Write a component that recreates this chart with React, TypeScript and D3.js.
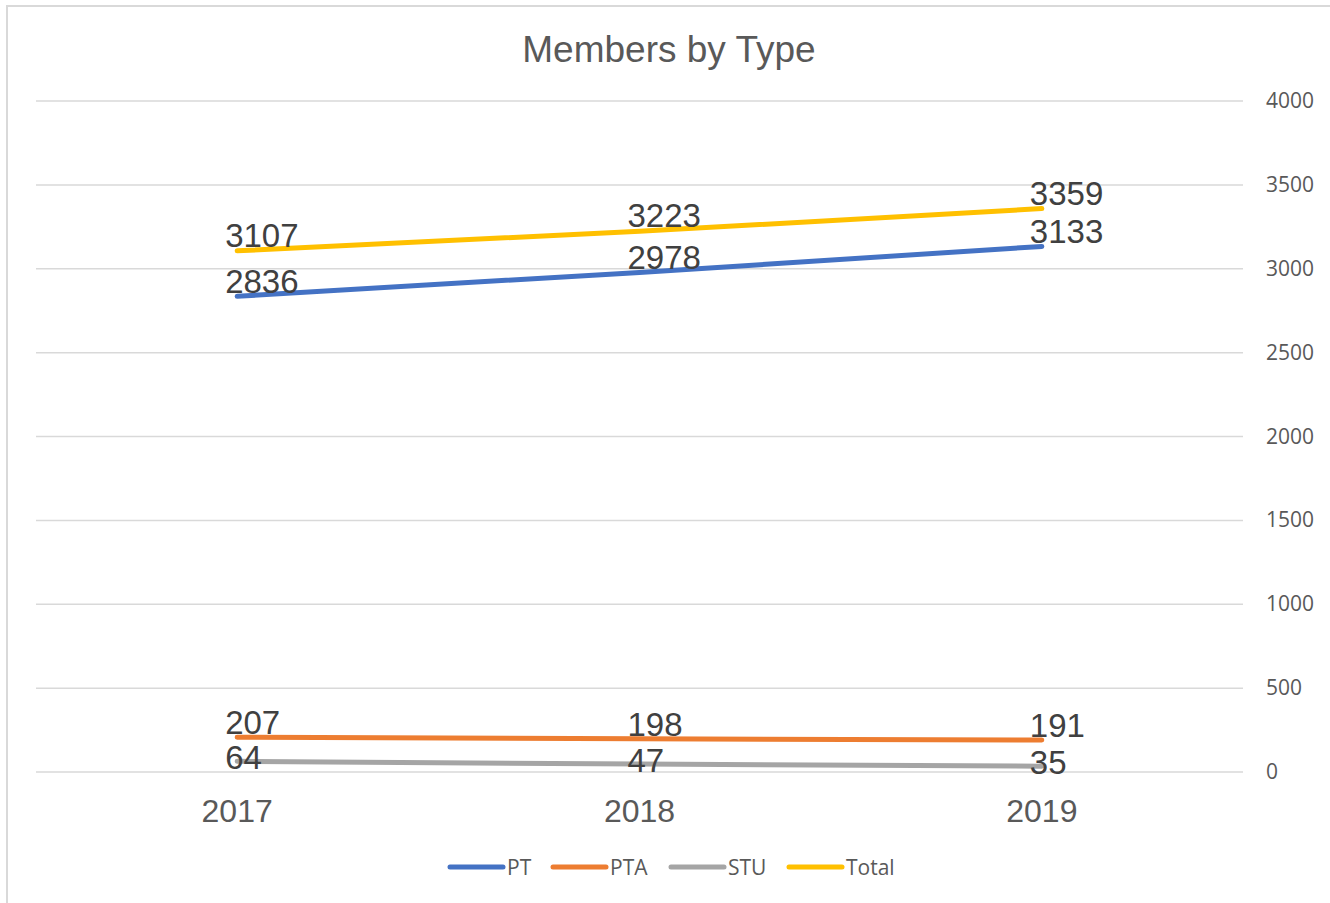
import React from 'react';
import * as d3 from 'd3';

const years = ['2017', '2018', '2019'];
const ptValues = [2836, 2978, 3133];
const ptaValues = [207, 198, 191];
const stuValues = [64, 47, 35];
const totalValues = [3107, 3223, 3359];
const yTicks = [0, 500, 1000, 1500, 2000, 2500, 3000, 3500, 4000];

// labelDy: vertical nudge of the data labels, like Excel placed them
const series = [
  { name: 'PT', values: ptValues, color: '#4472C4', labelDy: -3 },
  { name: 'PTA', values: ptaValues, color: '#ED7D31', labelDy: -3 },
  { name: 'STU', values: stuValues, color: '#A5A5A5', labelDy: 8 },
  { name: 'Total', values: totalValues, color: '#FFC000', labelDy: -4 },
];

const W = 1330;
const H = 903;
const plot = { left: 36, right: 1243, top: 101, bottom: 772 };

export default function App() {
  const x = d3.scaleBand<string>()
    .domain(years)
    .range([plot.left, plot.right]);
  const y = d3.scaleLinear()
    .domain([0, 4000])
    .range([plot.bottom, plot.top]);

  const cx = (d: string) => (x(d) as number) + x.bandwidth() / 2;

  const line = d3.line<number>()
    .x((d, i) => cx(years[i]))
    .y((d) => y(d));

  const legendX = [450, 553, 671, 789];

  return (
    <div style={{ position: 'absolute', left: 0, top: 0 }}>
      <svg width={W} height={H} style={{ display: 'block', background: '#fff' }}>
        {/* chart border */}
        <path d={`M7,${H + 5}V6H${W + 5}`} fill="none" stroke="#d9d9d9" strokeWidth={2} />

        <text
          x={669}
          y={62}
          textAnchor="middle"
          fontFamily="'Liberation Sans', Arial, sans-serif"
          fontSize={37}
          fill="#595959"
        >
          Members by Type
        </text>

        {/* gridlines and y ticks */}
        {yTicks.map((t) => (
          <g key={t}>
            <line
              x1={plot.left}
              x2={plot.right}
              y1={y(t)}
              y2={y(t)}
              stroke="#d9d9d9"
              strokeWidth={1.5}
            />
            <text
              x={1266}
              y={y(t) + 7}
              fontFamily="'Open Sans', sans-serif"
              fontSize={21}
              fill="#595959"
            >
              {t}
            </text>
          </g>
        ))}

        {/* categories */}
        {years.map((yr) => (
          <text
            key={yr}
            x={cx(yr)}
            y={822}
            textAnchor="middle"
            fontFamily="'Liberation Sans', Arial, sans-serif"
            fontSize={32}
            fill="#595959"
          >
            {yr}
          </text>
        ))}

        {/* lines */}
        {series.map((s) => (
          <path
            key={s.name}
            d={line(s.values) || ''}
            fill="none"
            stroke={s.color}
            strokeWidth={5}
            strokeLinecap="round"
          />
        ))}

        {/* data labels */}
        {series.map((s) =>
          s.values.map((v, i) => (
            <text
              key={`${s.name}-${i}`}
              x={cx(years[i]) - 12}
              y={y(v) + s.labelDy}
              fontFamily="'Liberation Sans', Arial, sans-serif"
              fontSize={33}
              fill="#404040"
            >
              {v}
            </text>
          ))
        )}

        {/* legend */}
        {series.map((s, i) => (
          <g key={s.name} transform={`translate(${legendX[i]},867)`}>
            <line x1={0} x2={53} y1={0} y2={0} stroke={s.color} strokeWidth={5} strokeLinecap="round" />
            <text
              x={57}
              y={8}
              fontFamily="'Open Sans', sans-serif"
              fontSize={21}
              fill="#595959"
            >
              {s.name}
            </text>
          </g>
        ))}
      </svg>
    </div>
  );
}
